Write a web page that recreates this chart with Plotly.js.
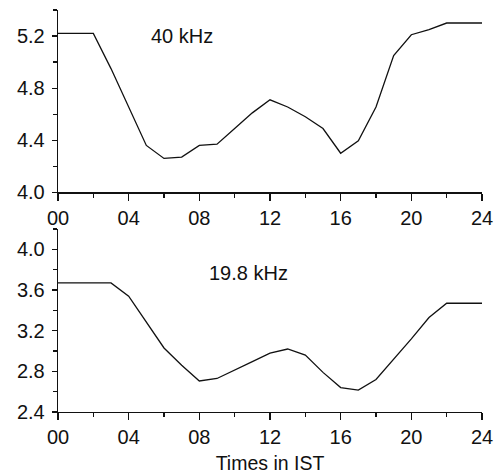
<!DOCTYPE html>
<html>
<head>
<meta charset="utf-8">
<script src="https://cdn.plot.ly/plotly-3.0.1.min.js"></script>
<style>html,body{margin:0;padding:0;background:#fff;}#chart{width:495px;height:474px;}</style>
</head>
<body>
<div id="chart"></div>
<script>
// Top panel: 40 kHz
const hours40 = [0, 2, 3, 4, 5, 6, 7, 8, 9, 10, 11, 12, 13, 14, 15, 16, 17, 18, 19, 20, 21, 22, 24];
const amp40 = [5.22, 5.22, 4.95, 4.66, 4.36, 4.26, 4.27, 4.36, 4.37, 4.49, 4.61, 4.71, 4.655, 4.58, 4.49, 4.30, 4.395, 4.655, 5.05, 5.21, 5.25, 5.30, 5.30];
// Bottom panel: 19.8 kHz
const hours198 = [0, 3, 4, 5, 6, 7, 8, 9, 10, 11, 12, 13, 14, 15, 16, 17, 18, 19, 20, 21, 22, 24];
const amp198 = [3.67, 3.67, 3.54, 3.285, 3.03, 2.86, 2.705, 2.73, 2.81, 2.895, 2.98, 3.02, 2.96, 2.79, 2.64, 2.615, 2.72, 2.915, 3.12, 3.33, 3.47, 3.47];
// Tick labels
const xTickVals = [0, 4, 8, 12, 16, 20, 24];
const xTickText = ["00", "04", "08", "12", "16", "20", "24"];
const label40 = "40 kHz";
const label198 = "19.8 kHz";
const xTitle = "Times in IST";

const FONT = "Liberation Sans, Arial, sans-serif";
const lineStyle = {color: "#111", width: 1.3};

const traces = [
  {x: hours40, y: amp40, type: "scatter", mode: "lines", line: lineStyle, xaxis: "x", yaxis: "y", showlegend: false},
  {x: hours198, y: amp198, type: "scatter", mode: "lines", line: lineStyle, xaxis: "x2", yaxis: "y2", showlegend: false}
];

function xAxis(anchor, withTitle) {
  const a = {
    anchor: anchor, range: [0, 24], domain: [0, 1],
    showline: true, linecolor: "#111", linewidth: 1.3, mirror: false,
    showgrid: false, zeroline: false,
    tickmode: "array", tickvals: xTickVals, ticktext: xTickText,
    ticks: "outside", ticklen: 7, tickwidth: 1.2, tickcolor: "#111",
    minor: {dtick: 2, tick0: 0, ticks: "outside", ticklen: 4, tickwidth: 1.2, tickcolor: "#111", showgrid: false},
    tickfont: {family: FONT, size: 20, color: "#111"},
    fixedrange: true
  };
  if (withTitle) {
    a.title = {text: xTitle, font: {family: FONT, size: 19.5, color: "#111"}, standoff: 9};
  }
  return a;
}

function yAxis(anchor, range, domain, tick0) {
  return {
    anchor: anchor, range: range, domain: domain,
    showline: true, linecolor: "#111", linewidth: 1.3,
    showgrid: false, zeroline: false,
    tick0: tick0, dtick: 0.4, tickformat: ".1f",
    ticks: "outside", ticklen: 5, tickwidth: 1.2, tickcolor: "#111",
    minor: {dtick: 0.2, ticks: "outside", ticklen: 4, tickwidth: 1.2, tickcolor: "#111", showgrid: false},
    tickfont: {family: FONT, size: 20, color: "#111"},
    ticklabelstandoff: 3,
    fixedrange: true
  };
}

const layout = {
  width: 495, height: 474,
  margin: {l: 58, r: 13, t: 10, b: 62},
  paper_bgcolor: "#fff", plot_bgcolor: "#fff",
  xaxis: xAxis("y", false),
  yaxis: yAxis("x", [4.0, 5.4], [0.5465, 1], 4.0),
  xaxis2: xAxis("y2", true),
  yaxis2: yAxis("x2", [2.4, 4.2], [0, 0.455], 2.4),
  annotations: [
    {text: label40, x: 7.0, y: 5.2, xref: "x", yref: "y", showarrow: false, font: {family: FONT, size: 20, color: "#111"}},
    {text: label198, x: 10.8, y: 3.77, xref: "x2", yref: "y2", showarrow: false, font: {family: FONT, size: 20, color: "#111"}}
  ],
  showlegend: false
};

Plotly.newPlot("chart", traces, layout, {displayModeBar: false, staticPlot: true});
</script>
</body>
</html>
